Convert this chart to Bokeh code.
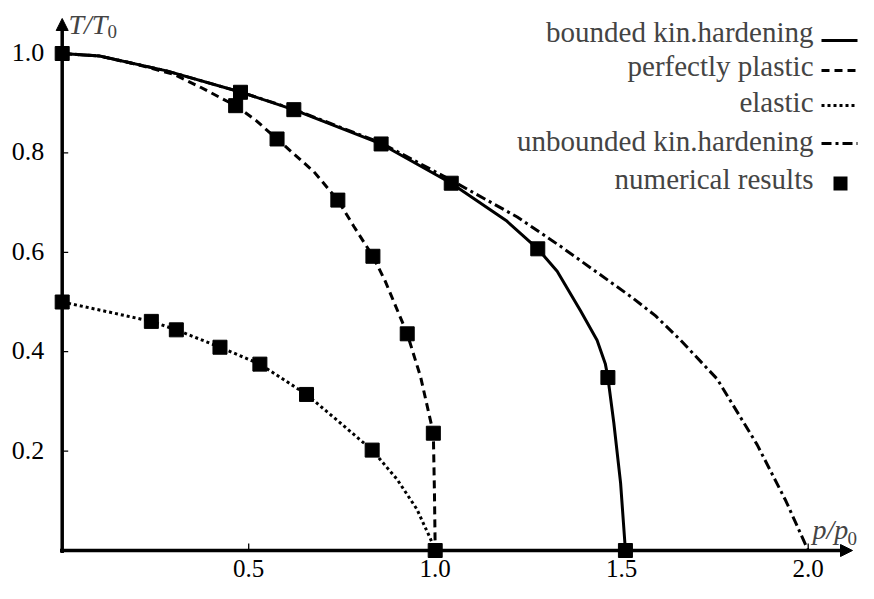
from bokeh.plotting import figure
from bokeh.models import Range1d, Arrow, NormalHead, Label, BoxAnnotation
from bokeh.core.properties import value
from bokeh.embed import file_html
from bokeh.resources import INLINE

# ---------------- data ----------------
bounded_x = [0.0, 0.10, 0.28, 0.48, 0.62, 0.855, 1.043, 1.19, 1.275, 1.327, 1.39, 1.434, 1.456, 1.463, 1.479, 1.497, 1.51]
bounded_y = [1.0, 0.995, 0.965, 0.922, 0.887, 0.818, 0.739, 0.664, 0.607, 0.562, 0.482, 0.423, 0.376, 0.348, 0.256, 0.136, 0.0]

plastic_x = [0.0, 0.10, 0.20, 0.30, 0.371, 0.465, 0.52, 0.576, 0.675, 0.739, 0.782, 0.833, 0.866, 0.925, 0.961, 0.995, 0.998, 1.0]
plastic_y = [1.0, 0.995, 0.978, 0.958, 0.932, 0.895, 0.865, 0.828, 0.762, 0.705, 0.652, 0.592, 0.542, 0.436, 0.349, 0.236, 0.116, 0.0]

elastic_x = [0.0, 0.112, 0.239, 0.306, 0.423, 0.530, 0.655, 0.742, 0.831, 0.898, 0.951, 0.987, 1.0]
elastic_y = [0.50, 0.482, 0.461, 0.444, 0.409, 0.375, 0.314, 0.259, 0.202, 0.143, 0.083, 0.024, 0.0]

unbounded_x = [0.0, 0.10, 0.28, 0.48, 0.62, 0.855, 0.943, 1.043, 1.22, 1.336, 1.528, 1.591, 1.658, 1.756, 1.863, 1.94, 2.0]
unbounded_y = [1.0, 0.995, 0.965, 0.922, 0.888, 0.82, 0.785, 0.745, 0.671, 0.612, 0.509, 0.472, 0.423, 0.345, 0.213, 0.1, 0.0]

num_x = [0.0, 0.478, 0.621, 0.855, 1.043, 1.275, 1.463, 1.51,
         0.465, 0.576, 0.739, 0.833, 0.925, 0.995, 1.0,
         0.0, 0.239, 0.306, 0.423, 0.530, 0.655, 0.831]
num_y = [1.0, 0.922, 0.887, 0.818, 0.739, 0.607, 0.348, 0.0,
         0.895, 0.828, 0.705, 0.592, 0.436, 0.236, 0.0,
         0.50, 0.461, 0.444, 0.409, 0.375, 0.314, 0.202]

x_ticks = [0.5, 1.0, 1.5, 2.0]
x_tick_labels = ["0.5", "1.0", "1.5", "2.0"]
y_ticks = [0.2, 0.4, 0.6, 0.8, 1.0]
y_tick_labels = ["0.2", "0.4", "0.6", "0.8", "1.0"]

legend_labels = ["bounded kin.hardening", "perfectly plastic", "elastic",
                 "unbounded kin.hardening", "numerical results"]

# ---------------- layout (pixel positions inside the figure) ----------------
W, H = 858, 583
X0_PX = 61.7      # px of x = 0
Y0_PX = 550.0     # px (from top) of y = 0
SX = 373.0        # px per unit x
SY = 497.0        # px per unit y
AX_X_END = (852 - X0_PX) / SX
AX_Y_END = (Y0_PX - 18) / SY

def dx(px):
    return (px - X0_PX) / SX

def dy(py):
    return (Y0_PX - py) / SY

FONT = "'Liberation Serif', 'Times New Roman', Times, serif"

p = figure(width=W, height=H,
           x_range=Range1d(-X0_PX / SX, (W - X0_PX) / SX),
           y_range=Range1d(-(H - Y0_PX) / SY, Y0_PX / SY),
           x_axis_type=None, y_axis_type=None,
           output_backend="svg", toolbar_location=None,
           min_border=0, outline_line_color=None)
p.background_fill_color = "white"
p.border_fill_color = "white"

# axes with arrow heads
p.add_layout(Arrow(end=NormalHead(size=12, fill_color="black", line_color="black", line_width=1),
                   x_start=dx(59.5), y_start=0, x_end=AX_X_END, y_end=0,
                   line_width=3.5, line_color="black", level="underlay"))
p.add_layout(Arrow(end=NormalHead(size=12, fill_color="black", line_color="black", line_width=1),
                   x_start=0, y_start=dy(Y0_PX + 2.5), x_end=0, y_end=AX_Y_END,
                   line_width=3.5, line_color="black", level="underlay"))

# ticks (inward)
p.segment(x0=x_ticks, y0=[0] * len(x_ticks), x1=x_ticks, y1=[7 / SY] * len(x_ticks),
          line_color="black", line_width=1.3)
p.segment(x0=[0] * len(y_ticks), y0=y_ticks, x1=[6 / SX] * len(y_ticks), y1=y_ticks,
          line_color="black", line_width=1.3)

# tick labels
p.text(x=x_ticks, y=[0] * len(x_ticks), text=x_tick_labels,
       text_align="center", text_baseline="middle", y_offset=18,
       text_font=value(FONT), text_font_size=value("25px"), text_color="black")
p.text(x=[0] * len(y_ticks), y=y_ticks, text=y_tick_labels,
       text_align="right", text_baseline="middle", x_offset=-18, y_offset=-1,
       text_font=value(FONT), text_font_size=value("26px"), text_color="black")

# curves
p.line(bounded_x, bounded_y, line_color="black", line_width=3)
p.line(plastic_x, plastic_y, line_color="black", line_width=3, line_dash="8 5")
p.line(elastic_x, elastic_y, line_color="black", line_width=3, line_dash="3 3")
p.line(unbounded_x, unbounded_y, line_color="black", line_width=3, line_dash="10 4 3 4")

# numerical results
p.scatter(num_x, num_y, marker="square", size=14, color="black")

# axis labels
p.add_layout(Label(x=dx(68), y=dy(23.5), text="T/T", text_font=FONT, text_font_style="italic",
                   text_font_size="28px", text_align="left", text_baseline="middle"))
p.add_layout(Label(x=dx(107), y=dy(30.5), text="0", text_font=FONT,
                   text_font_size="19px", text_align="left", text_baseline="middle"))
p.add_layout(Label(x=dx(812), y=dy(Y0_PX - 21.5), text="p/p", text_font=FONT, text_font_style="italic",
                   text_font_size="28px", text_align="left", text_baseline="middle"))
p.add_layout(Label(x=dx(847), y=dy(Y0_PX - 12.5), text="0", text_font=FONT,
                   text_font_size="19px", text_align="left", text_baseline="middle"))

# legend (text to the left of the sample)
text_right = 813
samp_l, samp_r = 821, 857
text_y = [31.7, 65.7, 101.2, 140.7, 178.2]
glyph_y = [40, 70, 105, 143, 183]
dashes = ["solid", "8 5", "3 3", "10 4 3 4"]
for i, lab in enumerate(legend_labels):
    p.add_layout(Label(x=dx(text_right), y=dy(text_y[i]), text=lab, text_font=FONT,
                       text_font_size="29px", text_align="right", text_baseline="middle"))
for i, d in enumerate(dashes):
    p.add_layout(Arrow(start=None, end=None, x_start=dx(samp_l), y_start=dy(glyph_y[i]),
                       x_end=dx(samp_r), y_end=dy(glyph_y[i]),
                       line_color="black", line_width=3, line_dash=d))
p.add_layout(BoxAnnotation(left=dx(833), right=dx(847), top=dy(glyph_y[4] - 7), bottom=dy(glyph_y[4] + 7),
                           fill_color="black", fill_alpha=1.0, line_color=None))

open("out.html", "w").write(file_html(p, INLINE))
